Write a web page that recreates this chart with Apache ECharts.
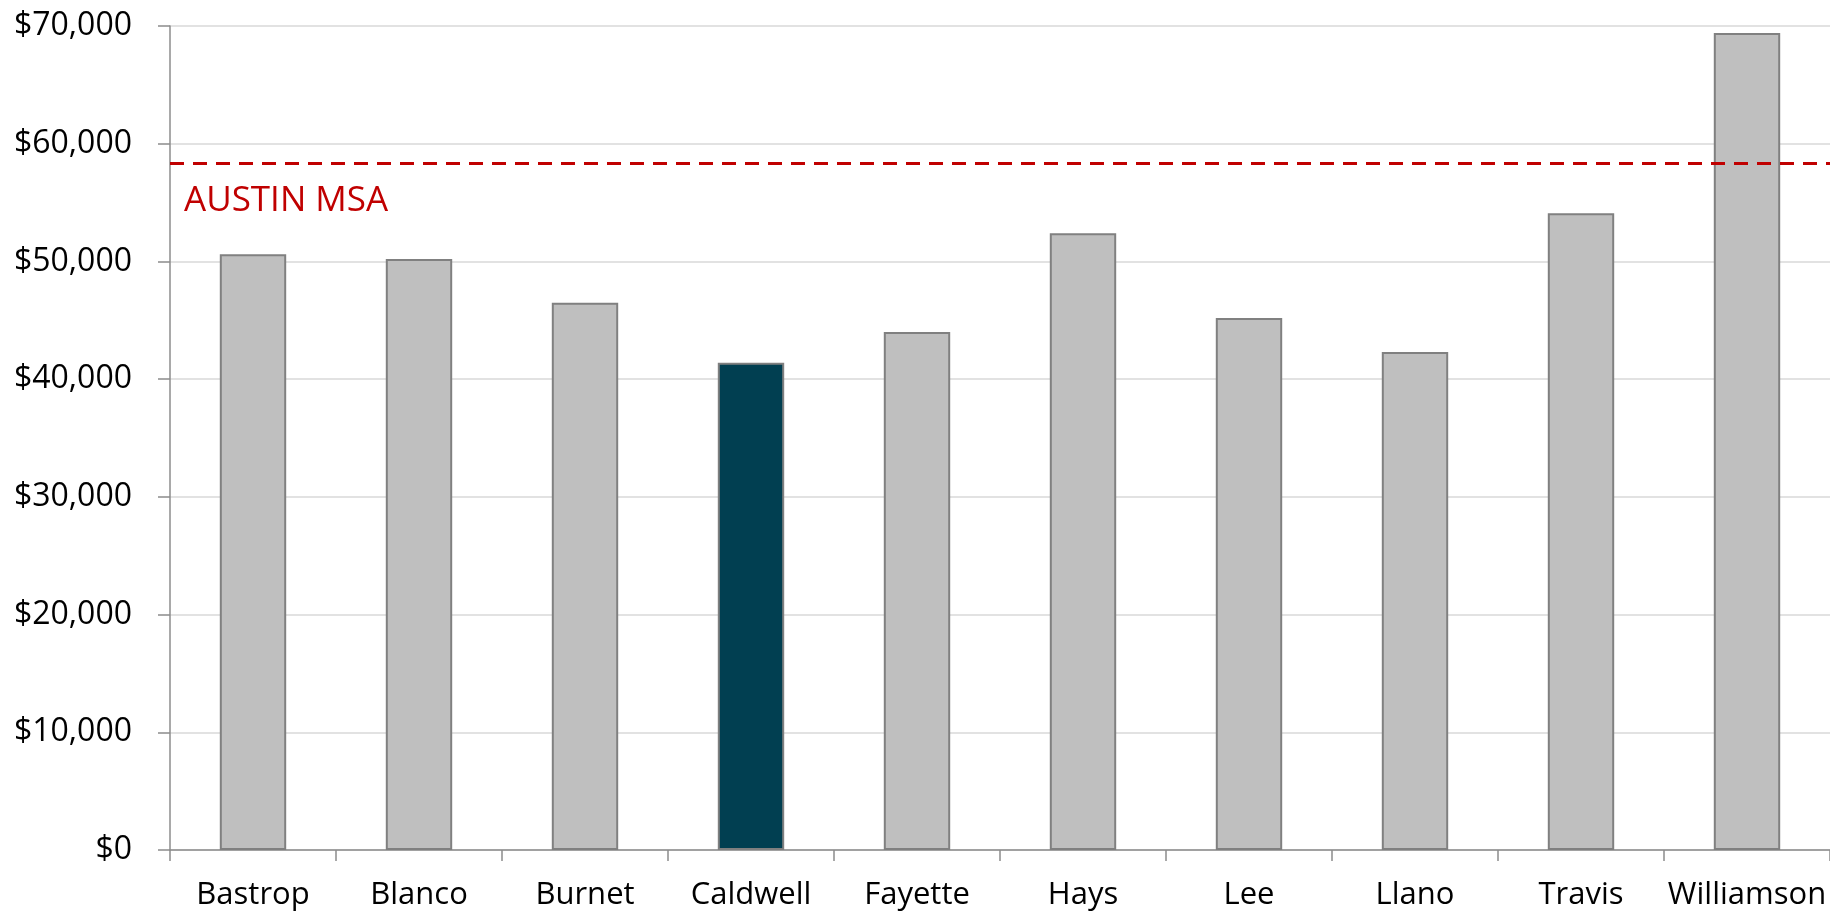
<!DOCTYPE html>
<html>
<head>
<meta charset="utf-8">
<script src="https://cdn.jsdelivr.net/npm/echarts@6/dist/echarts.min.js"></script>
<style>
  html, body { margin: 0; padding: 0; background: #ffffff; }
  #chart { width: 1830px; height: 912px; }
</style>
</head>
<body>
<div id="chart"></div>
<script>
// Median household income by county, with the metro-wide benchmark
const counties = ['Bastrop', 'Blanco', 'Burnet', 'Caldwell', 'Fayette', 'Hays', 'Lee', 'Llano', 'Travis', 'Williamson'];
const incomes = [50600, 50200, 46500, 41400, 44000, 52400, 45200, 42300, 54100, 69400];
const highlightCounty = 'Caldwell';
const msaLabel = 'AUSTIN MSA';
const msaIncome = 58300;
const yTicks = [0, 10000, 20000, 30000, 40000, 50000, 60000, 70000];

const FONT = '"Open Sans", "Noto Sans", sans-serif';
const fmtMoney = v => '$' + v.toLocaleString('en-US');

const chart = echarts.init(document.getElementById('chart'), null, { renderer: 'canvas' });

chart.setOption({
  animation: false,
  backgroundColor: '#ffffff',
  grid: { left: 170, right: -4, top: 26, bottom: 62, containLabel: false },
  xAxis: {
    type: 'category',
    data: counties,
    boundaryGap: true,
    axisLine: { show: true, lineStyle: { color: '#8c8c8c', width: 1.5 } },
    axisTick: { show: true, alignWithLabel: false, length: 11, lineStyle: { color: '#8c8c8c', width: 1.5 } },
    axisLabel: { color: '#000000', fontFamily: FONT, fontSize: 31, margin: 30, interval: 0 },
    splitLine: { show: false }
  },
  yAxis: {
    type: 'value',
    min: yTicks[0],
    max: yTicks[yTicks.length - 1],
    interval: yTicks[1] - yTicks[0],
    axisLine: { show: true, lineStyle: { color: '#8c8c8c', width: 1.5 } },
    axisTick: { show: true, inside: false, length: 12, lineStyle: { color: '#8c8c8c', width: 1.5 } },
    axisLabel: { color: '#000000', fontFamily: FONT, fontSize: 32, margin: 38, formatter: fmtMoney },
    splitLine: { show: true, lineStyle: { color: '#d9d9d9', width: 1.5 } }
  },
  series: [{
    type: 'bar',
    barWidth: '40%',
    data: counties.map((c, i) => ({
      value: incomes[i],
      itemStyle: {
        color: c === highlightCounty ? '#013f51' : '#bfbfbf',
        borderColor: '#808080',
        borderWidth: 2
      }
    })),
    markLine: {
      silent: true,
      symbol: ['none', 'none'],
      lineStyle: { color: '#c00000', type: [14, 9], width: 3 },
      label: {
        show: true,
        position: 'insideStartBottom',
        formatter: msaLabel,
        color: '#c00000',
        fontFamily: FONT,
        fontSize: 35,
        distance: [14, 20]
      },
      data: [{ yAxis: msaIncome }]
    }
  }]
});
</script>
</body>
</html>
